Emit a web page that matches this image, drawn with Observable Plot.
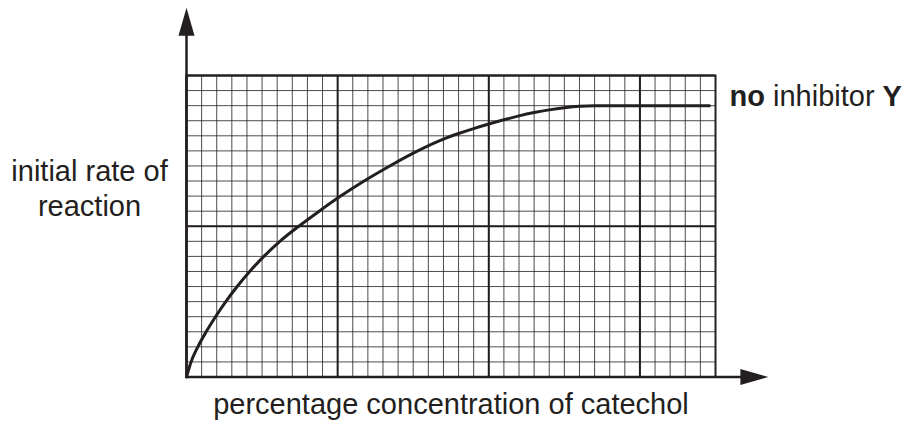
<!DOCTYPE html>
<html><head><meta charset="utf-8">
<script src="https://cdn.jsdelivr.net/npm/d3@7"></script>
<script src="https://cdn.jsdelivr.net/npm/@observablehq/plot@0.6"></script>
<style>
body{margin:0;background:#fff}
#chart svg{display:block}
</style></head><body><div id="chart"></div>
<script>
// curve: no inhibitor Y (grid-square units)
const concentration = [0, 0.3, 0.75, 1.3, 1.92, 2.6, 3.35, 4.18, 5.12, 6.18, 7.43, 8.78, 10.2, 11.75, 13.45, 15.3, 17, 18, 19, 20, 21, 22, 23, 24, 25, 26, 27, 34.6];
const rate          = [0, 1, 2, 3, 4, 5, 6, 7, 8, 9, 10, 11, 12, 13, 14, 15, 15.78, 16.15, 16.48, 16.78, 17.06, 17.32, 17.54, 17.72, 17.86, 17.96, 18, 18];

// graph paper
const xMinor = d3.range(0, 36);
const yMinor = d3.range(0, 21);
const xMajor = [0, 10, 20, 30];
const yMajor = [0, 10, 20];

// axis arrows (in grid units)
const xAxisEnd = [38.5];
const yAxisEnd = [24.5];

// texts
const yLabelLines = ["initial rate of", "reaction"];
const xLabel = ["percentage concentration of catechol"];
const seriesLabel = ["no inhibitor Y"];

const ink = "#231f20";
const font = "'Liberation Sans', Arial, Helvetica, sans-serif";

const data = concentration.map((c, i) => ({c, r: rate[i]}));

const arrowUp = {draw(ctx) { ctx.moveTo(0, 0); ctx.lineTo(-8, 28); ctx.lineTo(8, 28); ctx.closePath(); }};
const arrowRight = {draw(ctx) { ctx.moveTo(0, 0); ctx.lineTo(-28, -8); ctx.lineTo(-28, 8); ctx.closePath(); }};

const chart = Plot.plot({
  width: 904,
  height: 421,
  marginLeft: 186,
  marginRight: 189,
  marginTop: 75,
  marginBottom: 44.5,
  x: {domain: [0, 35], axis: null},
  y: {domain: [0, 20], axis: null},
  style: {fontFamily: font, color: ink, background: "#fff"},
  marks: [
    Plot.ruleX(xMinor, {x: d => d, stroke: ink, strokeWidth: 1, strokeOpacity: 0.8}),
    Plot.ruleY(yMinor, {y: d => d, stroke: ink, strokeWidth: 1, strokeOpacity: 0.8}),
    Plot.ruleX(xMajor, {x: d => d, stroke: ink, strokeWidth: 2}),
    Plot.ruleY(yMajor, {y: d => d, stroke: ink, strokeWidth: 2}),
    Plot.frame({stroke: ink, strokeWidth: 2}),
    // axes
    Plot.ruleX([0], {x: d => d, y1: 0, y2: yAxisEnd[0] - 1, stroke: ink, strokeWidth: 2.5}),
    Plot.ruleY([0], {y: d => d, x1: 0, x2: xAxisEnd[0] - 1, stroke: ink, strokeWidth: 2.5}),
    Plot.dot(yAxisEnd, {x: 0, y: d => d, symbol: arrowUp, r: 5, fill: ink, stroke: "none"}),
    Plot.dot(xAxisEnd, {x: d => d, y: 0, symbol: arrowRight, r: 5, fill: ink, stroke: "none"}),
    // curve
    Plot.line(data, {x: "c", y: "r", curve: "monotone-x", stroke: ink, strokeWidth: 3}),
    // labels
    Plot.text([yLabelLines[0]], {text: d => d, frameAnchor: "top-left", dx: -97, dy: 105, lineAnchor: "bottom", textAnchor: "middle", fontSize: 29, fill: ink}),
    Plot.text([yLabelLines[1]], {text: d => d, frameAnchor: "top-left", dx: -97, dy: 140, lineAnchor: "bottom", textAnchor: "middle", fontSize: 29, fill: ink}),
    Plot.text(xLabel, {text: d => d, frameAnchor: "bottom", dy: 36.5, lineAnchor: "bottom", textAnchor: "middle", fontSize: 29, fill: ink}),
    Plot.text(seriesLabel, {text: d => d, frameAnchor: "top-right", dx: 14, dy: 30, lineAnchor: "bottom", textAnchor: "start", fontSize: 29, fill: ink})
  ]
});

// bold "no" and "Y" in the series label
chart.querySelectorAll("text").forEach(t => {
  if (t.textContent === seriesLabel[0]) {
    const parts = [["no", "bold"], [" inhibitor ", "normal"], ["Y", "bold"]];
    t.textContent = "";
    for (const [s, w] of parts) {
      const ts = document.createElementNS("http://www.w3.org/2000/svg", "tspan");
      ts.setAttribute("font-weight", w);
      ts.textContent = s;
      t.appendChild(ts);
    }
    t.setAttribute("xml:space", "preserve");
    t.style.whiteSpace = "pre";
  }
});

document.getElementById("chart").appendChild(chart);
</script></body></html>
